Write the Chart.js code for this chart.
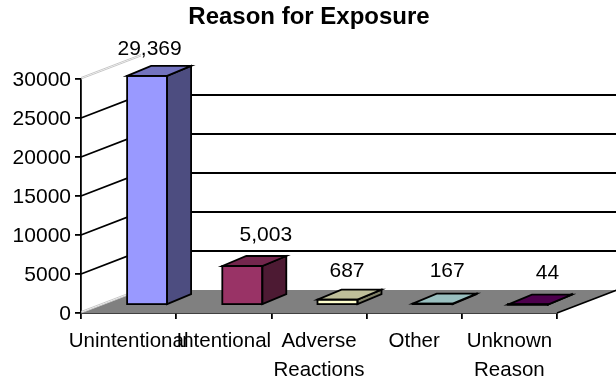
<!DOCTYPE html>
<html><head><meta charset="utf-8">
<style>html,body{margin:0;padding:0;background:#fff}canvas{display:block}</style>
<script src="https://cdn.jsdelivr.net/npm/chart.js@4"></script></head>
<body><canvas id="c" width="616" height="381"></canvas>
<script>
const categories = ["Unintentional","Intentional",["Adverse","Reactions"],"Other",["Unknown","Reason"]];
const values = [29369,5003,687,167,44];
const valueLabels = ["29,369","5,003","687","167","44"];
const yTicks = [0,5000,10000,15000,20000,25000,30000];
const frontColors = ["#9999FF","#993366","#FFFFCC","#CCFFFF","#660066"];
const topColors = ["#7373BF","#73264D","#BFBF99","#99BFBF","#4D004D"];
const sideColors = ["#4D4D80","#4D1A33","#808066","#668080","#330033"];
const FONT = "Liberation Sans, Arial, sans-serif";

const depth = {
  id:'depth',
  afterLayout(chart){ const t=chart.titleBlock; t.left=0; t.right=618; },
  beforeDatasetsDraw(chart){
    const {ctx,chartArea:a,scales:{y}}=chart;
    const wx=60, wy=23;
    ctx.save();
    ctx.lineCap='butt';
    ctx.fillStyle='#808080';
    ctx.beginPath();
    ctx.moveTo(a.left,a.bottom);ctx.lineTo(a.right,a.bottom);
    ctx.lineTo(a.right+wx,a.bottom-wy);ctx.lineTo(a.left+wx,a.bottom-wy);ctx.closePath();ctx.fill();
    ctx.lineWidth=1.8;ctx.strokeStyle='#000';
    yTicks.forEach(v=>{
      if(v===0||v===30000) return;
      const p=y.getPixelForValue(v);
      ctx.beginPath();ctx.moveTo(a.left,p);ctx.lineTo(a.left+wx,p-wy);ctx.lineTo(a.right+wx,p-wy);ctx.stroke();
    });
    ctx.beginPath();ctx.moveTo(a.right,a.bottom);ctx.lineTo(a.right+wx,a.bottom-wy);ctx.stroke();
    ctx.lineWidth=1;ctx.strokeStyle='#c8c8c8';
    [y.getPixelForValue(30000),y.getPixelForValue(0)].forEach(p=>{
      ctx.beginPath();ctx.moveTo(a.left,p);ctx.lineTo(a.left+wx,p-wy);ctx.stroke();
      ctx.beginPath();ctx.moveTo(a.left,p-1.5);ctx.lineTo(a.left+wx,p-wy-1.5);ctx.stroke();
    });
    ctx.restore();
    ctx.save();
    ctx.translate(18.5,-8);
  },
  afterDatasetsDraw(chart){
    const {ctx}=chart;
    const dx=24, dy=10;
    const bars=chart.getDatasetMeta(0).data;
    ctx.lineWidth=1.8;ctx.strokeStyle='#000';ctx.lineJoin='miter';
    bars.forEach((b,i)=>{
      const l=b.x-b.width/2,r=b.x+b.width/2,t=b.y,bt=b.base;
      ctx.fillStyle=sideColors[i];
      ctx.beginPath();ctx.moveTo(r,t);ctx.lineTo(r+dx,t-dy);ctx.lineTo(r+dx,bt-dy);ctx.lineTo(r,bt);ctx.closePath();ctx.fill();ctx.stroke();
      ctx.fillStyle=topColors[i];
      ctx.beginPath();ctx.moveTo(l,t);ctx.lineTo(l+dx,t-dy);ctx.lineTo(r+dx,t-dy);ctx.lineTo(r,t);ctx.closePath();ctx.fill();ctx.stroke();
      ctx.strokeRect(l,t,b.width,bt-t);
    });
    ctx.restore();
    const off=chart.options.plugins.depth.labelOffsets;
    ctx.save();
    ctx.font='21px '+FONT;ctx.fillStyle='#000';ctx.textAlign='center';ctx.textBaseline='middle';
    bars.forEach((b,i)=>{
      ctx.fillText(valueLabels[i],b.x+off[i][0],off[i][1]);
    });
    ctx.restore();
  }
};

new Chart(document.getElementById('c'),{
  type:'bar',
  data:{labels:categories,datasets:[{data:values,backgroundColor:frontColors,borderWidth:0,barPercentage:1,categoryPercentage:0.42,clip:false}]},
  plugins:[depth],
  options:{
    responsive:false,animation:false,
    layout:{padding:{left:0,top:0,right:59,bottom:0}},
    plugins:{
      legend:{display:false},tooltip:{enabled:false},
      title:{display:true,text:"Reason for Exposure",color:'#000',font:{family:FONT,size:24,weight:'bold'},padding:{top:3,bottom:47.2}},
      depth:{labelOffsets:[[21,49],[42,235],[28,271],[33,271],[38,273]]}
    },
    scales:{
      x:{z:1,
        grid:{drawOnChartArea:false,drawTicks:true,tickLength:6,color:'#000',lineWidth:1.8},
        border:{color:'#000',width:1.8},
        ticks:{color:'#000',font:{family:FONT,size:20.5,lineHeight:1.41},maxRotation:0,minRotation:0,autoSkip:false,padding:8},
        afterFit(s){s.height=68;}
      },
      y:{z:1,min:0,max:30000,
        afterBuildTicks(s){s.ticks=yTicks.map(v=>({value:v}));},
        grid:{drawOnChartArea:false,drawTicks:true,tickLength:6,color:'#000',lineWidth:1.8},
        border:{color:'#000',width:1.8},
        ticks:{color:'#000',font:{family:FONT,size:21},padding:4,labelOffset:1,callback:v=>String(v)},
        afterFit(s){s.width=81;}
      }
    }
  }
});
</script></body></html>
